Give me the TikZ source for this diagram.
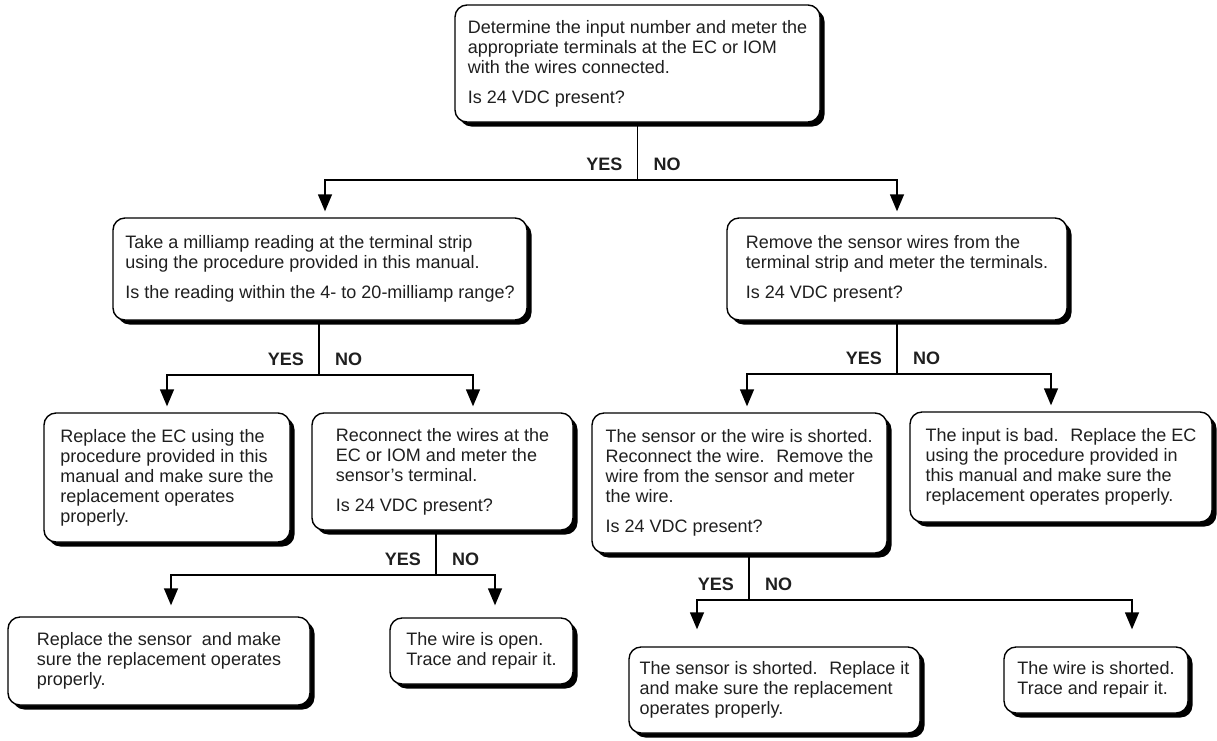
\documentclass[tikz,border=0pt]{standalone}
\usepackage{fontspec}
\setmainfont{Liberation Sans}
\usetikzlibrary{arrows.meta,shadows,positioning}
\tikzstyle{box} = [draw=black, line width=1.4pt, rounded corners=12pt, fill=white, align=left, inner sep=0pt, text=black!88, font={\fontsize{18}{20}\selectfont}, general shadow={fill=black, shadow xshift=4.5pt, shadow yshift=-4.5pt}]
\tikzstyle{wire} = [line width=1.4pt]
\tikzstyle{flow} = [wire, -{Triangle[length=17pt,width=14pt]}, shorten >=6pt]
\tikzstyle{lab} = [font={\fontsize{18}{20}\selectfont\bfseries}, inner sep=0pt, text=black!88]

\begin{document}
\begin{tikzpicture}[x=1pt,y=-1pt]
        \useasboundingbox (0,0) rectangle (1217,740);
        \node[box,minimum width=365pt,minimum height=117pt](meter) at (637.5,63.5){Determine the input number and meter the\\appropriate terminals at the EC or IOM\\with the wires connected.\\[10pt]Is 24 VDC present?};
        \node[box,minimum width=414pt,minimum height=102pt](milli) at (320,269){Take a milliamp reading at the terminal strip\\using the procedure provided in this manual.\\[10pt]Is the reading within the 4- to 20-milliamp range?};
        \node[box,minimum width=340pt,minimum height=102pt](remove) at (897,269){Remove the sensor wires from the\\terminal strip and meter the terminals.\\[10pt]Is 24 VDC present?};
        \node[box,minimum width=246pt,minimum height=129pt](replec) at (167,477.5){Replace the EC using the\\procedure provided in this\\manual and make sure the\\replacement operates\\properly.};
        \node[box,minimum width=261pt,minimum height=117pt](reconn) at (442.5,471.5){Reconnect the wires at the\\EC or IOM and meter the\\sensor’s terminal.\\[10pt]Is 24 VDC present?};
        \node[box,minimum width=295pt,minimum height=140pt](short) at (739.5,483){The sensor or the wire is shorted.\\Reconnect the wire.~ Remove the\\wire from the sensor and meter\\the wire.\\[10pt]Is 24 VDC present?};
        \node[box,minimum width=302pt,minimum height=110pt](bad) at (1061,467){The input is bad.~ Replace the EC\\using the procedure provided in\\this manual and make sure the\\replacement operates properly.};
        \node[box,minimum width=302pt,minimum height=88pt](repsen) at (159,661){Replace the sensor~ and make\\sure the replacement operates\\properly.};
        \node[box,minimum width=183pt,minimum height=66pt](open) at (481.5,651){The wire is open.\\Trace and repair it.};
        \node[box,minimum width=291pt,minimum height=86pt](senshort) at (774.5,690){The sensor is shorted.~ Replace it\\and make sure the replacement\\operates properly.};
        \node[box,minimum width=184pt,minimum height=66pt](wshort) at (1096,680){The wire is shorted.\\Trace and repair it.};
        % split points
        \coordinate (s1) at (637.5,180);
        \coordinate (s2) at (319,375);
        \coordinate (s3) at (897,374);
        \coordinate (s5) at (436,575);
        \coordinate (s6) at (749,600);
        \draw[wire](s1|-meter.south)--(s1);
        \draw[flow](s1)-|([xshift=5pt]milli.north);
        \draw[flow](s1)-|(remove.north);
        \draw[wire](s2|-milli.south)--(s2);
        \draw[flow](s2)-|(replec.north);
        \draw[flow](s2)-|([xshift=30.5pt]reconn.north);
        \draw[wire](s3|-remove.south)--(s3);
        \draw[flow](s3)-|([xshift=7.5pt]short.north);
        \draw[flow](s3)-|([xshift=-10pt]bad.north);
        \draw[wire](s5|-reconn.south)--(s5);
        \draw[flow,shorten >=11pt](s5)-|([xshift=12pt]repsen.north);
        \draw[flow,shorten >=12pt](s5)-|([xshift=13.5pt]open.north);
        \draw[wire](s6|-short.south)--(s6);
        \draw[flow,shorten >=17pt](s6)-|([xshift=-77.5pt]senshort.north);
        \draw[flow,shorten >=17pt](s6)-|([xshift=36pt]wshort.north);
        \node[lab,above left=9pt and 15pt of s1](yes1){YES};
        \node[lab,above right=9pt and 16pt of s1](no1){NO};
        \node[lab,above left=9pt and 15pt of s2](yes2){YES};
        \node[lab,above right=9pt and 16pt of s2](no2){NO};
        \node[lab,above left=9pt and 15pt of s3](yes3){YES};
        \node[lab,above right=9pt and 16pt of s3](no3){NO};
        \node[lab,above left=9pt and 15pt of s5](yes5){YES};
        \node[lab,above right=9pt and 16pt of s5](no5){NO};
        \node[lab,above left=9pt and 15pt of s6](yes6){YES};
        \node[lab,above right=9pt and 16pt of s6](no6){NO};
      \end{tikzpicture}
\end{document}
